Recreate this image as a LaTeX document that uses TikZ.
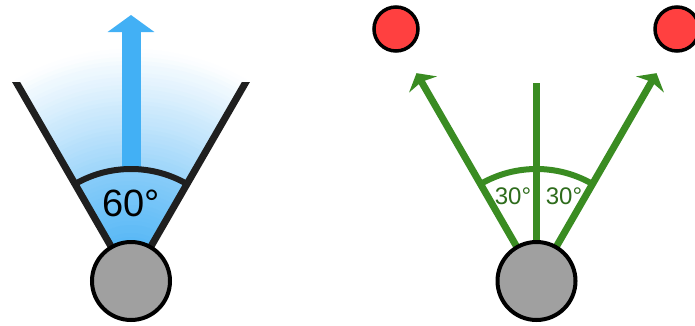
\documentclass[tikz,border=0pt]{standalone}
\usepackage{fontspec}
\setmainfont{Liberation Sans}
\usetikzlibrary{arrows.meta, calc}
\definecolor{fovblue}{RGB}{66,176,245}
\definecolor{fovshade}{RGB}{60,172,245}
\definecolor{sightgreen}{RGB}{58,140,34}
\definecolor{labelgreen}{RGB}{46,108,28}
\definecolor{bodygray}{RGB}{160,160,160}
\definecolor{targetred}{RGB}{255,64,64}

\begin{document}
\begin{tikzpicture}[
  x=1pt, y=1pt,
  body/.style={circle, draw, line width=4pt, fill=bodygray, minimum size=78pt, inner sep=0pt},
  target/.style={circle, draw, line width=3.5pt, fill=targetred, minimum size=44pt, inner sep=0pt},
  edge/.style={line width=7pt, draw=black!88},
  ray/.style={line width=7pt, draw=sightgreen},
  label/.style={inner sep=0pt, font=\fontsize{24}{26}\selectfont, text=labelgreen}
  ]

  \useasboundingbox (0,0) rectangle (695,325);
  \coordinate (eyeL) at (131,44);
  \coordinate (eyeR) at (536.5,44);
  \coordinate (fovTip) at (131,310);
  \path (eyeL) +(120:236) coordinate (fovLeft) +(60:236) coordinate (fovRight)
    +(90:112) coordinate (fovMid);
  \path (eyeR) +(120:240) coordinate (rayLeft) +(60:240) coordinate (rayRight)
    +(90:198) coordinate (rayMid);

  % field of view, fading outwards
  \foreach \r in {240,236,...,4} {
    \pgfmathtruncatemacro\mix{max(0,235-\r)/2.35}
    \fill[fovshade!\mix!white] (eyeL) -- ++(60:\r) arc (60:120:\r) -- cycle;
  }
  \fill[fovblue, fill opacity=0.2] (eyeL) -- ++(60:112) arc (60:120:112) -- cycle;
  \draw[line width=19pt, fovblue, -{Triangle[length=17pt,width=46pt]}] (fovMid) -- (fovTip);
  \draw[edge, line width=6pt] (eyeL) ++(60:112) arc (60:120:112);
  \begin{scope}
    \clip (0,0) rectangle (695,243);
    \draw[edge] (fovLeft) -- (eyeL) -- (fovRight);
  \end{scope}
  \node[inner sep=0pt, font=\fontsize{38}{40}\selectfont] (fovLabel) at (131,122) {60°};

  % split view
  \draw[ray, -{Stealth[length=13pt,width=32pt,inset=3pt]}] (eyeR) -- (rayLeft);
  \draw[ray, -{Stealth[length=13pt,width=32pt,inset=3pt]}] (eyeR) -- (rayRight);
  \draw[ray] (eyeR) -- (rayMid);
  \draw[ray, line width=6pt] (eyeR) ++(60:112) arc (60:120:112);
  \node[label] (angleL) at (513,129) {30°};
  \node[label] (angleR) at (564,129) {30°};

  \node[body] (bodyL) at (eyeL) {};
  \node[body] (bodyR) at (eyeR) {};
  \node[target] (targetL) at (396,296) {};
  \node[target] (targetR) at (677,296) {};

\end{tikzpicture}
\end{document}
